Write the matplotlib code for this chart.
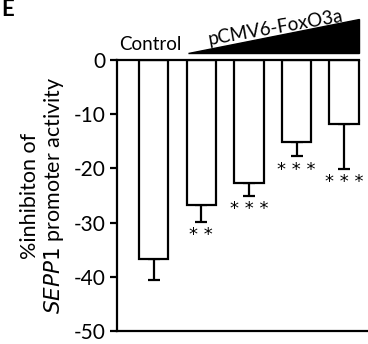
# FoxO3a dose series vs control, SEPP1 promoter activity (panel E)
import numpy as np
import matplotlib
matplotlib.use("Agg")
import matplotlib.pyplot as plt

plt.rcParams['font.family'] = ['Lato', 'DejaVu Sans']

groups = ["Control", "1", "2", "3", "4"]
means = [-36.7, -26.8, -22.7, -15.2, -11.9]
errs = [3.8, 3.0, 2.3, 2.6, 8.2]     # only drawn downward
stars = ["", "**", "***", "***", "***"]
yticks = [0, -10, -20, -30, -40, -50]

fig = plt.figure(figsize=(3.68, 3.44), dpi=100)
ax = fig.add_axes([117/368, 13/344, 1 - 117/368, 271/344])

x = np.arange(len(groups))
w = 0.62
lw = 1.6
ax.bar(x, means, width=w, color="white", edgecolor="black", linewidth=lw, zorder=2)
ax.errorbar(x, means, yerr=[errs, np.zeros(len(errs))], fmt="none", ecolor="black",
            elinewidth=lw, capsize=4, capthick=lw, zorder=1)

for xi, m, e, s in zip(x, means, errs, stars):
    if s:
        ax.text(xi, m - e - 0.8, " ".join(s), ha="center", va="top", fontsize=13,
                family="DejaVu Sans")

ax.set_xlim(-0.77, 4.5)
ax.set_ylim(-50, 0)
ax.set_yticks(yticks)
ax.set_yticklabels([str(t) for t in yticks], fontsize=15)
ax.set_xticks([])
ax.tick_params(axis="y", length=5, width=lw, pad=3)
for sp in ["top", "right"]:
    ax.spines[sp].set_visible(False)
ax.spines["left"].set_linewidth(lw)
ax.spines["bottom"].set_linewidth(lw)
# zero line only runs to the last bar
ax.plot([-0.77, x[-1] + w/2], [0, 0], color="black", lw=lw, clip_on=False, zorder=3)

ax.set_ylabel("%inhibiton of\n$\\it{SEPP1}$ promoter activity", fontsize=15.5,
              labelpad=6, linespacing=1.1)

# label + wedge on top
ax.text(-0.72, 1.2, "Control", fontsize=13.5, ha="left", va="bottom", clip_on=False)
tri = plt.Polygon([[1 - w/2 + 0.03, 1.25], [x[-1] + w/2, 1.25], [x[-1] + w/2, 7.6]],
                  closed=True, color="black", clip_on=False)
ax.add_patch(tri)
ax.text(2.55, 6.0, "pCMV6-FoxO3a", fontsize=13.5, ha="center", va="center",
        rotation=10, clip_on=False)

fig.text(0.003, (344 - 16) / 344, "E", fontsize=16, fontweight="bold", ha="left",
         va="baseline")

fig.savefig("out.png", dpi=100)
